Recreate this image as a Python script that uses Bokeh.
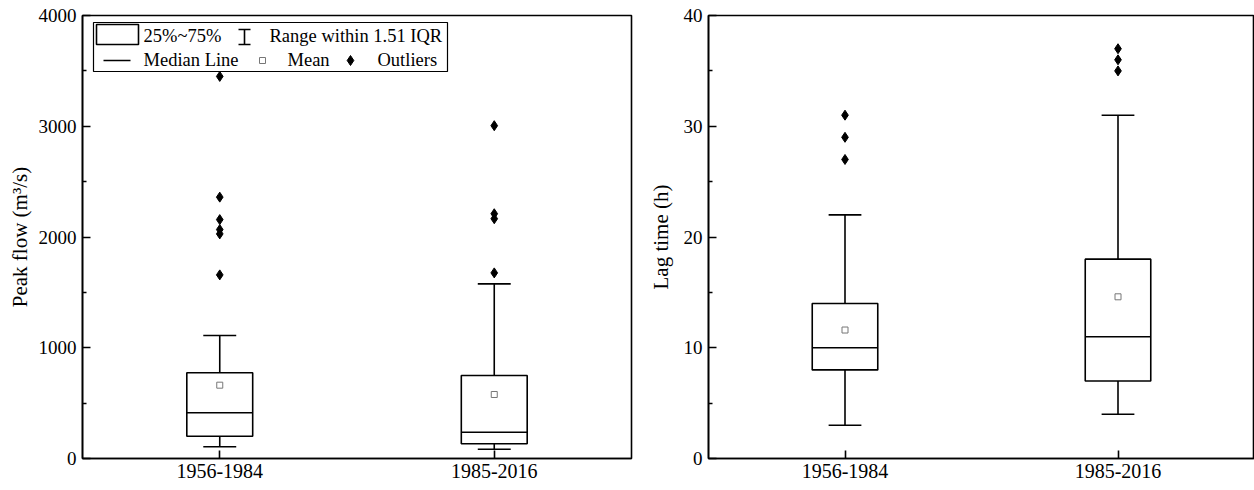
from bokeh.plotting import figure
from bokeh.layouts import row
from bokeh.models import Range1d, FixedTicker
from bokeh.core.properties import value
from bokeh.embed import file_html
from bokeh.resources import INLINE

# ---------------- data ----------------
periods = ["1956-1984", "1985-2016"]
positions = [1, 2]

peak_lower = [106, 84]
peak_q1 = [201, 133]
peak_median = [413, 237]
peak_q3 = [774, 749]
peak_upper = [1111, 1577]
peak_mean = [662, 578]
peak_outliers_a = [3450, 2360, 2157, 2067, 2028, 1658]
peak_outliers_b = [3005, 2210, 2165, 1676]

lag_lower = [3, 4]
lag_q1 = [8, 7]
lag_median = [10, 11]
lag_q3 = [14, 18]
lag_upper = [22, 31]
lag_mean = [11.6, 14.6]
lag_outliers_a = [27, 29, 31]
lag_outliers_b = [35, 36, 37]

peak_ticks = [0, 1000, 2000, 3000, 4000]
lag_ticks = [0, 10, 20, 30, 40]

legend_labels = ["25%~75%", "Range within 1.51 IQR", "Median Line", "Mean", "Outliers"]

FONT = "Liberation Serif"
BOX_HALF = 0.12
CAP_HALF = 0.06
LW = 1.6
FRAME_H = 443


def make_panel(lower, q1, med, q3, upper, mean, outs_a, outs_b, ticks, ylabel,
               frame_w, border_left, border_right, label_standoff):
    y_end = ticks[-1]
    p = figure(frame_width=frame_w, frame_height=FRAME_H,
               x_range=Range1d(0.5, 2.5), y_range=Range1d(ticks[0], y_end),
               output_backend="svg", toolbar_location=None,
               min_border_left=border_left, min_border_right=border_right,
               min_border_top=15, min_border_bottom=32,
               background_fill_color="white", border_fill_color="white",
               outline_line_color="black", outline_line_width=LW)
    p.grid.visible = False

    xl = [x - BOX_HALF for x in positions]
    xr = [x + BOX_HALF for x in positions]
    cl = [x - CAP_HALF for x in positions]
    cr = [x + CAP_HALF for x in positions]

    # whiskers
    p.segment(x0=positions, y0=q3, x1=positions, y1=upper, line_color="black", line_width=LW)
    p.segment(x0=positions, y0=q1, x1=positions, y1=lower, line_color="black", line_width=LW)
    p.segment(x0=cl, y0=upper, x1=cr, y1=upper, line_color="black", line_width=LW)
    p.segment(x0=cl, y0=lower, x1=cr, y1=lower, line_color="black", line_width=LW)
    # boxes
    p.quad(left=xl, right=xr, bottom=q1, top=q3, fill_color="white",
           line_color="black", line_width=LW)
    # medians
    p.segment(x0=xl, y0=med, x1=xr, y1=med, line_color="black", line_width=LW)
    # means
    p.scatter(x=positions, y=mean, marker="square", size=6, fill_color=None,
              line_color="#777777", line_width=1)
    # outliers
    p.scatter(x=[positions[0]] * len(outs_a), y=outs_a, marker="diamond", size=10,
              fill_color="black", line_color="black")
    p.scatter(x=[positions[1]] * len(outs_b), y=outs_b, marker="diamond", size=10,
              fill_color="black", line_color="black")

    # axes
    step = ticks[1] - ticks[0]
    minor = [t + step / 2 for t in ticks[:-1]]
    p.yaxis.ticker = FixedTicker(ticks=ticks, minor_ticks=minor)
    p.xaxis.ticker = FixedTicker(ticks=positions, minor_ticks=[])
    p.xaxis.major_label_overrides = {positions[0]: periods[0], positions[1]: periods[1]}
    for ax in (p.xaxis[0], p.yaxis[0]):
        ax.axis_line_width = LW
        ax.axis_line_color = "black"
        ax.major_tick_in = 8
        ax.major_tick_out = 0
        ax.minor_tick_in = 4
        ax.minor_tick_out = 0
        ax.major_tick_line_width = LW
        ax.minor_tick_line_width = LW
        ax.major_label_text_font = FONT
        ax.major_label_text_font_size = "19px"
        ax.major_label_text_color = "black"
        ax.major_label_standoff = 6
        ax.axis_label_text_font = FONT
        ax.axis_label_text_font_size = "21px"
        ax.axis_label_text_font_style = "normal"
        ax.axis_label_text_color = "black"
    p.xaxis.major_label_text_font_size = "20px"
    p.xaxis.major_label_standoff = 5
    p.yaxis.axis_label = ylabel
    p.yaxis.axis_label_standoff = label_standoff
    return p


left = make_panel(peak_lower, peak_q1, peak_median, peak_q3, peak_upper, peak_mean,
                  peak_outliers_a, peak_outliers_b, peak_ticks, "Peak flow (m\u00b3/s)",
                  549, 82, 2, 4)
right = make_panel(lag_lower, lag_q1, lag_median, lag_q3, lag_upper, lag_mean,
                   lag_outliers_a, lag_outliers_b, lag_ticks, "Lag time (h)",
                   546, 75, 0, 8)

# ---------------- legend (drawn in the left panel) ----------------
# convert page pixel positions of the left frame into its data coordinates
FX0, FY_BOTTOM, FW = 82, 458, 549


def lx(px):
    return 0.5 + (px - FX0) / FW * 2.0


def ly(py):
    return (FY_BOTTOM - py) / FRAME_H * peak_ticks[-1]


# frame
left.quad(left=[lx(93)], right=[lx(447)], top=[ly(22)], bottom=[ly(71)],
          fill_color="white", line_color="black", line_width=1.2)
# box symbol
left.quad(left=[lx(96)], right=[lx(138)], top=[ly(24)], bottom=[ly(44)],
          fill_color="white", line_color="black", line_width=LW)
# whisker symbol
left.segment(x0=[lx(244), lx(238), lx(238)], y0=[ly(29), ly(29), ly(44)],
             x1=[lx(244), lx(250), lx(250)], y1=[ly(44), ly(29), ly(44)],
             line_color="black", line_width=LW)
# median symbol
left.segment(x0=[lx(103)], y0=[ly(60)], x1=[lx(130)], y1=[ly(60)],
             line_color="black", line_width=LW)
# mean symbol
left.scatter(x=[lx(262)], y=[ly(60)], marker="square", size=6, fill_color=None,
             line_color="#777777", line_width=1)
# outlier symbol
left.scatter(x=[lx(350)], y=[ly(60)], marker="diamond", size=10,
             fill_color="black", line_color="black")
left.text(x=[lx(143), lx(269), lx(143), lx(287), lx(377)],
          y=[ly(35), ly(35), ly(59), ly(59), ly(59)],
          text=legend_labels, text_font=value(FONT), text_font_size="18.5px",
          text_baseline="middle", text_align="left", text_color="black")

layout = row(left, right)
open("out.html", "w").write(file_html(layout, INLINE))
